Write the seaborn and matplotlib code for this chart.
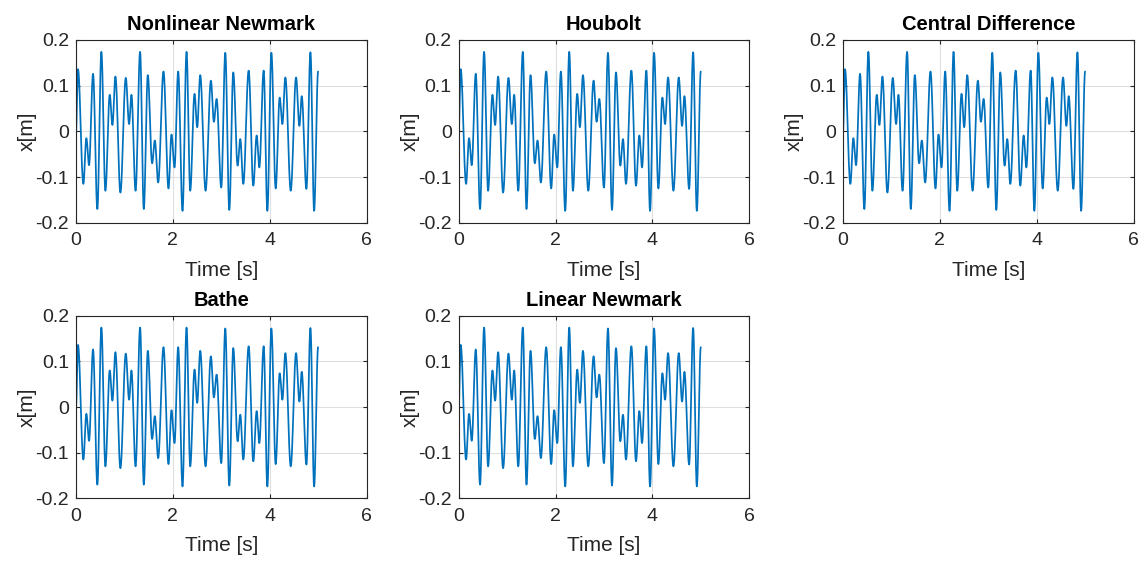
import numpy as np
import pandas as pd
import matplotlib
matplotlib.use("Agg")
import matplotlib.pyplot as plt
import seaborn as sns

# Displacement response: successive turning points (time [s], displacement [m])
turn_t = [0.000, 0.041, 0.152, 0.214, 0.269, 0.352, 0.441, 0.524, 0.607, 0.697,
          0.752, 0.814, 0.917, 1.028, 1.097, 1.145, 1.230, 1.324, 1.400, 1.483,
          1.572, 1.628, 1.697, 1.807, 1.910, 1.972, 2.035, 2.110, 2.200, 2.283,
          2.359, 2.448, 2.503, 2.566, 2.676, 2.786, 2.848, 2.904, 3.000, 3.083,
          3.166, 3.248, 3.338, 3.393, 3.455, 3.566, 3.662, 3.731, 3.786, 3.876,
          3.952, 4.035, 4.124, 4.207, 4.262, 4.324, 4.435, 4.545, 4.614, 4.662,
          4.759, 4.842, 4.918, 5.000]
turn_x = [0.000, 0.136, -0.115, -0.015, -0.074, 0.126, -0.170, 0.174, -0.130, 0.080,
          0.014, 0.120, -0.134, 0.117, 0.016, 0.080, -0.130, 0.174, -0.170, 0.123,
          -0.070, -0.020, -0.112, 0.131, -0.125, -0.007, -0.079, 0.131, -0.174, 0.174,
          -0.130, 0.082, 0.009, 0.123, -0.130, 0.111, 0.021, 0.071, -0.123, 0.172,
          -0.172, 0.129, -0.075, -0.017, -0.115, 0.133, -0.119, -0.009, -0.079, 0.133,
          -0.174, 0.172, -0.125, 0.074, 0.016, 0.118, -0.130, 0.118, 0.012, 0.077,
          -0.126, 0.173, -0.174, 0.131]

methods = ["Nonlinear Newmark", "Houbolt", "Central Difference", "Bathe", "Linear Newmark"]

x_ticks = [0, 2, 4, 6]
y_ticks = [-0.2, -0.1, 0, 0.1, 0.2]
y_ticklabels = ["-0.2", "-0.1", "0", "0.1", "0.2"]


def trace(t_pts, x_pts, n=40):
    """Smooth half-cosine swing between consecutive turning points."""
    ts, xs = [t_pts[0]], [x_pts[0]]
    for i in range(len(t_pts) - 1):
        s = np.linspace(0, 1, n)[1:]
        w = (1 - np.cos(np.pi * s)) / 2
        ts.extend(t_pts[i] + (t_pts[i + 1] - t_pts[i]) * s)
        xs.extend(x_pts[i] + (x_pts[i + 1] - x_pts[i]) * w)
    return pd.DataFrame({"t": ts, "x": xs})


sns.set_theme(style="white")
plt.rcParams["font.family"] = ["Liberation Sans", "DejaVu Sans"]

W, H = 1148, 561
fig = plt.figure(figsize=(W / 100, H / 100), dpi=100)

lefts = [76, 458.7, 843]
rows = [(40, 222.7), (315.7, 498.3)]
ax_w = 290.5

df = trace(turn_t, turn_x)
text_c = "#262626"

for k, name in enumerate(methods):
    r, c = divmod(k, 3)
    top, bot = rows[r]
    ax = fig.add_axes([lefts[c] / W, 1 - bot / H, ax_w / W, (bot - top) / H])
    sns.lineplot(data=df, x="t", y="x", ax=ax, color="#0072BD", linewidth=1.25,
                 estimator=None, sort=False)
    ax.set_xlim(0, 6)
    ax.set_ylim(-0.2, 0.2)
    ax.set_xticks(x_ticks)
    ax.set_yticks(y_ticks)
    ax.set_yticklabels(y_ticklabels)
    ax.grid(True, color="#dfdfdf", linewidth=0.8)
    ax.set_axisbelow(True)
    for sp in ax.spines.values():
        sp.set_color(text_c)
        sp.set_linewidth(0.8)
        sp.set_visible(True)
    ax.tick_params(direction="in", length=3, width=0.8, color=text_c,
                   labelsize=14, labelcolor=text_c, pad=5,
                   top=True, right=True, bottom=True, left=True)
    ax.tick_params(axis="x", pad=7)
    ax.set_xlabel("Time [s]", fontsize=15, color=text_c, labelpad=8)
    ax.set_ylabel("x[m]", fontsize=15, color=text_c, labelpad=-1)
    ax.set_title(name, fontsize=14.5, fontweight="bold", color="black", pad=7)

fig.savefig("out.png", dpi=100, facecolor="white")
